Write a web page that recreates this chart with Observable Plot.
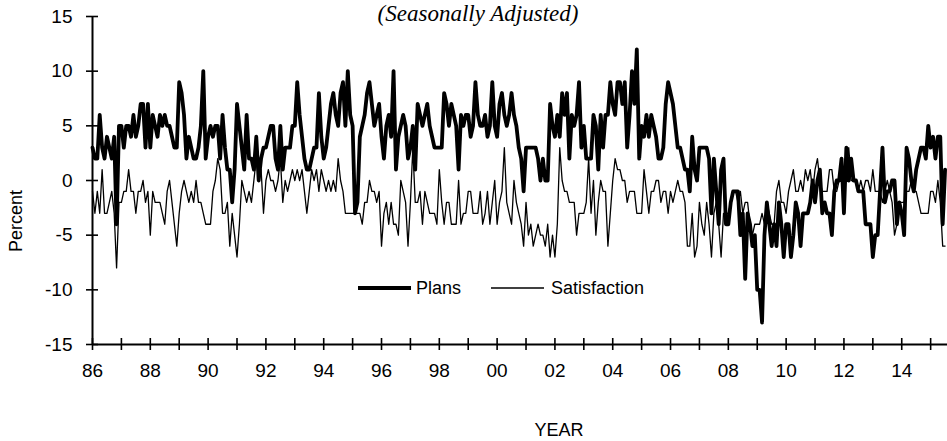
<!DOCTYPE html>
<html>
<head>
<meta charset="utf-8">
<script src="https://cdn.jsdelivr.net/npm/d3@7"></script>
<script src="https://cdn.jsdelivr.net/npm/@observablehq/plot@0.6"></script>
<style>
  body { margin: 0; background: #fff; overflow: hidden; }
  #chart { position: relative; width: 947px; height: 441px; }
  #legend {
    position: absolute; left: 358px; top: 277px; height: 22px;
    display: flex; align-items: center;
    font: 18px Arial, "Liberation Sans", sans-serif; color: #000;
  }
  #legend svg { display: block; }
</style>
</head>
<body>
<div id="chart"></div>
<script>
// Monthly readings (percent), starting January 1986.
const startYear = 1986;

const plans = [
  3,2,2,6,3,2,4,3,2,4,-4,5,
  5,3,5,5,4,6,4,5,7,7,3,7,
  3,6,5,4,6,5,6,5,5,4,3,3,
  9,8,6,2,4,3,2,2,3,5,10,2,
  4,5,4,5,5,2,6,3,1,1,-2,1,
  7,5,3,1,6,2,2,1,4,0,2,3,
  3,4,5,5,2,1,5,1,3,3,3,5,
  5,9,6,4,2,1,1,2,3,3,8,4,
  2,3,5,7,8,6,5,8,9,5,10,6,
  5,-3,-2,4,5,6,8,9,7,5,6,7,
  4,2,5,6,4,10,1,4,5,6,5,2,
  3,5,1,7,6,5,6,7,5,4,3,3,
  3,3,8,7,5,7,6,5,1,6,5,6,
  6,4,5,9,6,5,5,6,4,5,9,5,
  4,7,8,6,5,6,8,6,5,3,2,
  -1,3,3,3,3,3,2,0,2,0,0,7,
  5,4,6,4,8,6,8,2,6,5,6,9,
  3,5,2,2,2,6,5,1,6,3,6,6,
  9,7,6,9,9,7,9,3,6,10,7,12,
  2,5,4,6,4,6,5,4,2,2,3,7,
  9,8,7,5,3,3,2,1,1,-1,4,1,
  0,3,3,3,3,2,-3,2,-1,-4,1,2,
  -4,-4,-2,-1,-1,-1,-5,-3,-9,-3,-4,-6,
  -5,-10,-10,-13,-5,-2,-4,-6,-4,-6,-2,-4,
  -7,-4,-4,-7,-5,-2,-3,-6,-3,-3,-3,
  -2,0,-2,0,1,-3,-2,-3,-3,-5,-1,0,
  0,2,-3,3,0,2,0,0,-1,-1,-1,-4,
  -4,-4,-7,-5,-5,-1,3,-2,-1,-1,0,0,
  -4,-2,-3,-5,3,2,0,-1,1,2,3,3,
  2,5,3,4,2,4,4,-4,1
];

const satisfaction = [
  -1,-3,-1,-3,1,-3,-3,-2,-1,-3,-8,-2,
  -2,-1,-1,1,-1,-1,-3,-1,-1,0,-2,-1,
  -5,-1,-2,-2,-2,-3,-4,-1,0,-2,-4,-6,
  -3,-1,0,-1,-2,-1,-2,0,-2,-2,-3,-4,
  -4,-4,-1,0,2,1,-3,-3,-2,-6,-3,-5,
  -7,-4,0,-1,-2,-1,-2,0,2,0,1,-3,
  0,1,0,0,-1,0,2,-2,0,-1,0,1,
  0,1,0,1,-1,-3,-1,1,0,1,-1,1,
  0,-1,0,-1,0,-1,2,0,-1,-3,-3,-3,
  -3,-3,-3,-3,-4,-2,-2,0,-1,-1,-2,-1,
  -6,-3,-2,-4,-2,-4,-4,-5,0,-1,-2,-6,
  -2,3,-2,-2,-1,-4,-1,-2,-3,-3,-3,-4,
  1,-2,-4,-2,-2,-4,-4,-4,0,-4,-3,-3,
  -1,-1,-3,-3,-3,-1,-4,-3,-1,-4,-2,0,
  -4,-2,-1,3,-2,-3,-4,0,-2,-3,-4,
  -6,-2,-5,-4,-6,-5,-4,-5,-5,-6,-4,-7,
  -5,-7,-4,3,0,-1,-1,-2,-2,-2,-5,-3,
  -3,-3,-2,2,-3,0,-5,-2,0,-1,-1,-6,
  -3,0,2,1,1,0,0,-2,-1,-1,-1,-3,
  -3,-3,1,-1,-3,-1,-1,0,0,-2,-1,-1,
  -3,-1,-2,-1,0,-1,-1,-2,-6,-6,-3,-7,
  -6,-2,-4,-5,-2,-4,-7,-3,-2,-4,-7,-3,
  -3,-3,-2,-1,-1,-2,-1,-3,-2,-2,-4,-5,
  -4,-4,-4,-3,-4,-2,-3,-4,-4,-1,0,-2,
  -2,-3,-1,0,1,-1,-1,0,-1,1,0,
  1,-1,1,2,0,-1,-1,-1,1,1,-1,-1,
  0,2,0,1,3,0,0,0,-1,0,-1,0,
  0,-1,1,-1,-1,-1,-2,-1,0,-1,-2,-5,
  -4,-2,-2,-2,-1,-1,0,-1,-1,-2,-3,-3,
  -3,-3,-1,-1,-2,0,-2,-6,-6
];

const yearTicks = d3.range(1986, 2016);
const yearLabels = d3.range(1986, 2015, 2);
const percentTicks = [-15, -10, -5, 0, 5, 10, 15];
const seriesNames = ["Plans", "Satisfaction"];
const titleText = "(Seasonally Adjusted)";
const xLabel = "YEAR";
const yLabel = "Percent";

const toRows = values => values.map((v, i) => ({t: startYear + i / 12, v}));
const plansRows = toRows(plans);
const satisfactionRows = toRows(satisfaction);
const endYear = startYear + plans.length / 12;

const chart = Plot.plot({
  width: 947,
  height: 441,
  marginLeft: 92,
  marginRight: 0,
  marginTop: 16,
  marginBottom: 97,
  style: {fontFamily: 'Arial, "Liberation Sans", sans-serif', fontSize: "19px", color: "#000", background: "#fff"},
  x: {domain: [startYear, endYear], label: null},
  y: {domain: [percentTicks[0], percentTicks[percentTicks.length - 1]], label: null},
  marks: [
    Plot.lineY(satisfactionRows, {x: "t", y: "v", stroke: "#000", strokeWidth: 1.3}),
    Plot.lineY(plansRows, {x: "t", y: "v", stroke: "#000", strokeWidth: 3.8}),
    Plot.ruleX([startYear], {stroke: "#000", strokeWidth: 2}),
    Plot.ruleY([percentTicks[0]], {stroke: "#000", strokeWidth: 2}),
    Plot.axisX(yearTicks, {tickSize: 12, dy: -6, strokeWidth: 1.6, tickFormat: () => "", label: null}),
    Plot.axisX(yearLabels, {tickSize: 0, tickPadding: 19, tickFormat: d => String(d % 100).padStart(2, "0"), label: null}),
    Plot.axisY(percentTicks, {tickSize: 12, dx: 6, strokeWidth: 1.6, tickFormat: () => "", label: null}),
    Plot.axisY(percentTicks, {tickSize: 0, tickPadding: 20, tickFormat: d => String(d), label: null})
  ]
});

const svg = d3.select(chart);
svg.append("text")
  .attr("x", 478).attr("y", 21)
  .attr("text-anchor", "middle")
  .style("font", 'italic 23px "Times New Roman", "Liberation Serif", serif')
  .text(titleText);
svg.append("text")
  .attr("x", 559).attr("y", 436)
  .attr("text-anchor", "middle")
  .style("font-size", "18px")
  .text(xLabel);
svg.append("text")
  .attr("transform", "translate(22,221) rotate(-90)")
  .attr("text-anchor", "middle")
  .style("font-size", "18px")
  .text(yLabel);

const container = document.getElementById("chart");
container.appendChild(chart);

// Legend: line samples with series names
const legend = document.createElement("div");
legend.id = "legend";
const widths = [4, 1.3];
const gaps = [0, 30];
seriesNames.forEach((name, i) => {
  const s = d3.create("svg").attr("width", 53).attr("height", 8)
    .style("margin-left", gaps[i] + "px");
  s.append("line").attr("x1", 0).attr("x2", 53).attr("y1", 4).attr("y2", 4)
    .attr("stroke", "#000").attr("stroke-width", widths[i]);
  legend.appendChild(s.node());
  const span = document.createElement("span");
  span.textContent = name;
  span.style.marginLeft = (i === 0 ? 5 : 7) + "px";
  legend.appendChild(span);
});
container.appendChild(legend);
</script>
</body>
</html>
